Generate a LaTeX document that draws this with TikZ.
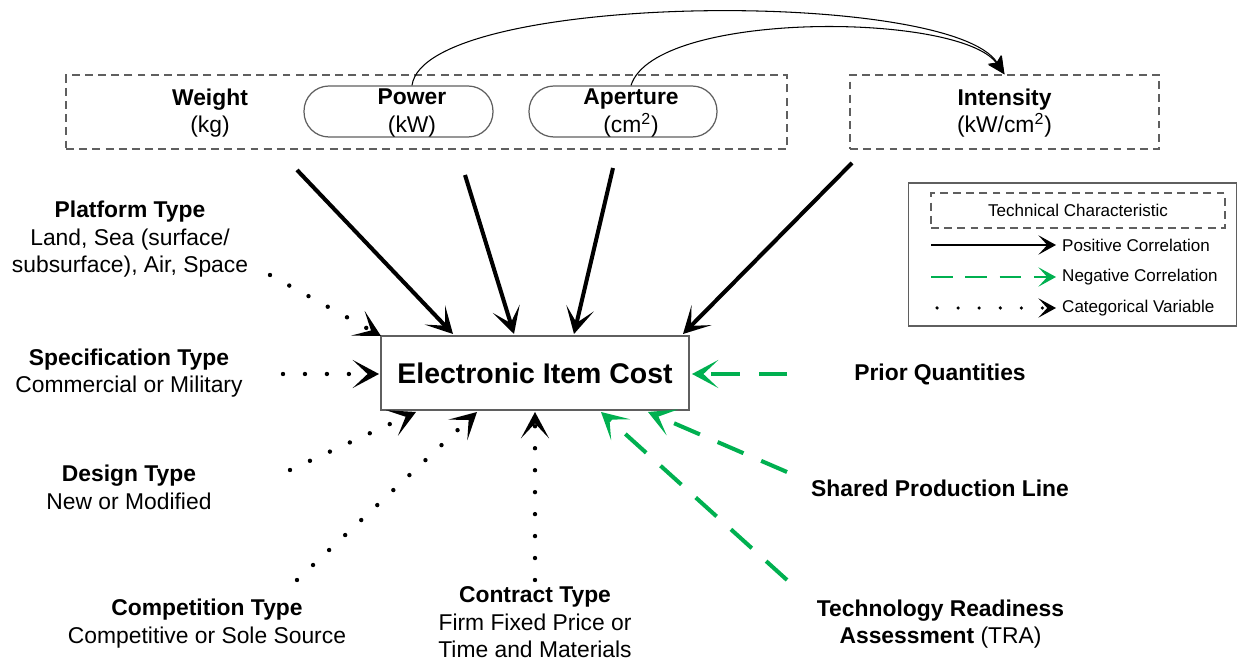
\documentclass[tikz,border=0pt]{standalone}
\usepackage{fontspec}
\setmainfont{Liberation Sans}
\usepackage{color}
\definecolor{neggreen}{RGB}{0,176,80}
\definecolor{boxgray}{RGB}{95,95,95}
\usepackage{tikz}
\usetikzlibrary{arrows.meta}

\begin{document}
\begin{tikzpicture}[x=0.02cm,y=-0.02cm,
    lbl/.style={align=center,font=\fontsize{13pt}{15.6pt}\selectfont},
    legtxt/.style={anchor=west,font=\fontsize{9.7pt}{11.6pt}\selectfont},
    techbox/.style={draw=boxgray,line width=0.7pt,dash pattern=on 4.5pt off 3pt},
    pill/.style={draw=boxgray,line width=0.7pt,rounded corners=0.5cm,minimum height=1.02cm},
    posarrow/.style={line width=2.3pt,-{Stealth[length=15pt,width=16pt,inset=8.5pt]}},
    negarrow/.style={neggreen,line width=2.3pt,dash pattern=on 16pt off 11pt,-{Stealth[length=15pt,width=16pt,inset=8.5pt]}},
    catarrow/.style={line width=2.5pt,line cap=round,dash pattern=on 0pt off 12.5pt,-{Stealth[length=15pt,width=16pt,inset=8.5pt]}}]
      \useasboundingbox (0,0) rectangle (1238,661);
      % top row
      \node[techbox,minimum width=14.42cm,minimum height=1.48cm] (group) at (426.5,112) {};
      \node[techbox,minimum width=6.18cm,minimum height=1.48cm] (intensity) at (1004.5,112) {};
      \node[pill,minimum width=3.78cm] (power) at (398.5,111.5) {};
      \node[pill,minimum width=3.76cm] (aperture) at (623,111.5) {};
      \node[lbl] (weighttxt) at (210,113) {\textbf{Weight}\\(kg)};
      \node[lbl] (powertxt) at (412,113) {\textbf{Power}\\(kW)};
      \node[lbl] (aperturetxt) at (631,113) {\textbf{Aperture}\\(cm\textsuperscript{2})};
      \node[lbl] (intensitytxt) at (1004.5,113) {\textbf{Intensity}\\(kW/cm\textsuperscript{2})};
      \draw[line width=0.6pt,-{Stealth[length=10pt,width=9pt,inset=2pt]}] (powertxt |- power.north) .. controls (425,-8) and (950,-12) .. (intensity.north);
      \draw[line width=0.6pt,-{Stealth[length=10pt,width=9pt,inset=2pt]}] (aperturetxt |- aperture.north) .. controls (655,10) and (960,12) .. (intensity.north);
      % centre
      \node[draw=boxgray,line width=0.8pt,minimum width=6.16cm,minimum height=1.48cm,font=\fontsize{16.2pt}{19pt}\selectfont\bfseries] (cost) at (535,373) {Electronic Item Cost};
      % left labels
      \node[lbl] (platform) at (130,239.5) {\textbf{Platform Type}\\Land, Sea (surface/\\subsurface), Air, Space};
      \node[lbl] (spec) at (129,373) {\textbf{Specification Type}\\Commercial or Military};
      \node[lbl] (design) at (129,487.5) {\textbf{Design Type}\\New or Modified};
      \node[lbl] (competition) at (207,623.5) {\textbf{Competition Type}\\Competitive or Sole Source};
      \node[lbl] (contract) at (535,622.5) {\textbf{Contract Type}\\Firm Fixed Price or\\Time and Materials};
      % right labels
      \node[lbl] (prior) at (940,374) {\textbf{Prior Quantities}};
      \node[lbl] (shared) at (940,488) {\textbf{Shared Production Line}};
      \node[lbl] (tra) at (940.5,624) {\textbf{Technology Readiness}\\\textbf{Assessment} (TRA)};
      % arrow ends
      \coordinate (wS) at (297,170);   \coordinate (wE) at (453,334);
      \coordinate (pS) at (465,175);   \coordinate (pE) at (514,334);
      \coordinate (aS) at (613,168);   \coordinate (aE) at (574,334);
      \coordinate (iS) at (852,163);   \coordinate (iE) at (683,334);
      \coordinate (platS) at (270,275); \coordinate (platE) at (381,336);
      \coordinate (specS) at (283,374); \coordinate (specE) at (379,374);
      \coordinate (desS) at (290,470);  \coordinate (desE) at (416,412);
      \coordinate (compS) at (297,580); \coordinate (compE) at (477,412);
      \coordinate (contS) at (535,580); \coordinate (contE) at (535,412);
      \coordinate (priS) at (787,374);  \coordinate (priE) at (692,374);
      \coordinate (shS) at (787,472);   \coordinate (shE) at (648,412);
      \coordinate (traS) at (787,580);  \coordinate (traE) at (601,412);
      \draw[posarrow] (wS) -- (wE);
      \draw[posarrow] (pS) -- (pE);
      \draw[posarrow] (aS) -- (aE);
      \draw[posarrow] (iS) -- (iE);
      \draw[catarrow] (platS) -- (platE);
      \draw[catarrow] (specS) -- (specE);
      \draw[catarrow] (desS) -- (desE);
      \draw[catarrow] (compS) -- (compE);
      \draw[catarrow] (contS) -- (contE);
      \draw[negarrow] (priS) -- (priE);
      \draw[negarrow] (shS) -- (shE);
      \draw[negarrow] (traS) -- (traE);
      % legend
      \node[draw=boxgray,line width=0.7pt,minimum width=6.56cm,minimum height=2.86cm] (legend) at (1072.5,254.5) {};
      \node[techbox,minimum width=5.88cm,minimum height=0.7cm,font=\fontsize{9.7pt}{11.6pt}\selectfont] (legtech) at (1078,210.5) {Technical Characteristic};
      \node[legtxt] (legpos) at (1056,245) {Positive Correlation};
      \node[legtxt] (legneg) at (1056,277) {Negative Correlation};
      \node[legtxt] (legcat) at (1056,308) {Categorical Variable};
      \coordinate (lp) at (931,245);
      \coordinate (ln) at (931,277);
      \coordinate (lc) at (937,308);
      \draw[line width=1.7pt,-{Stealth[length=10pt,width=11pt,inset=5pt]}] (lp) -- (legpos.west);
      \draw[neggreen,line width=1.7pt,dash pattern=on 12.5pt off 7pt,-{Stealth[length=10pt,width=11pt,inset=5pt]}] (ln) -- (legneg.west);
      \draw[line width=2pt,line cap=round,dash pattern=on 0pt off 12pt,-{Stealth[length=10pt,width=11pt,inset=5pt]}] (lc) -- (legcat.west);
\end{tikzpicture}
\end{document}
